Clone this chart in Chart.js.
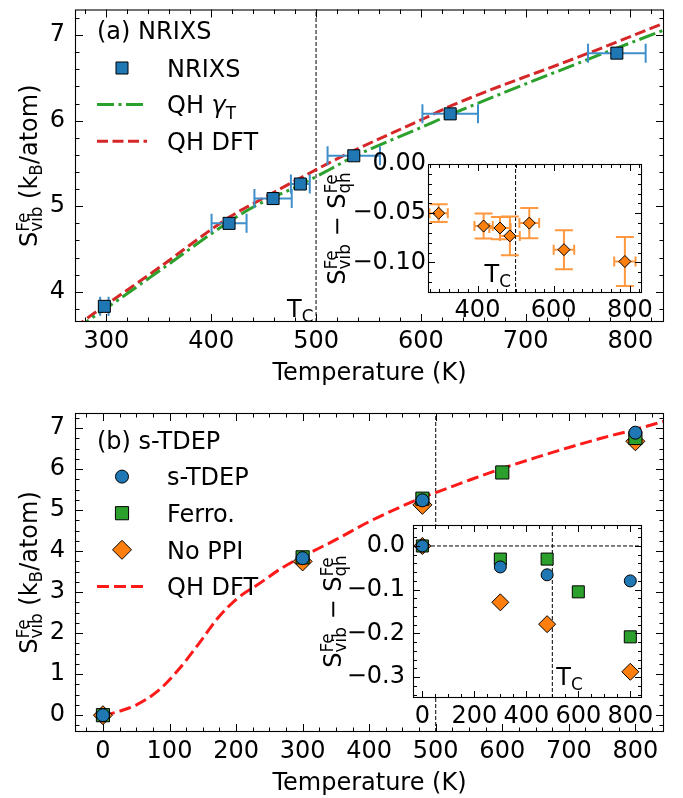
<!DOCTYPE html>
<html><head><meta charset="utf-8">
<script src="https://cdn.jsdelivr.net/npm/chart.js@4/dist/chart.umd.min.js"></script>
<style>
html,body{margin:0;padding:0;background:#fff;}
#wrap{position:relative;width:683px;height:798px;overflow:hidden;background:#fff;}
canvas{position:absolute;}
</style></head><body>
<div id="wrap">
<canvas id="mainA" width="683" height="400" style="left:0px;top:0px"></canvas>
<canvas id="insetA" width="383" height="185" style="left:300px;top:150px"></canvas>
<canvas id="mainB" width="683" height="398" style="left:0px;top:400px"></canvas>
<canvas id="insetB" width="383" height="240" style="left:300px;top:505px"></canvas>
</div>
<script>
// ---------------- data: panel (a) ----------------
const TC = 500;
const nrixsT    = [298, 417, 459, 485, 536, 628, 787];
const nrixsS    = [3.83, 4.80, 5.09, 5.26, 5.59, 6.08, 6.79];
const nrixsTErr = [4, 16.7, 17.8, 9, 25, 26.5, 27.5];
const qhGammaT  = [270, 281, 300, 350, 417, 443, 485, 513, 536, 602, 628, 760, 832];
const qhGammaS  = [3.55, 3.65, 3.81, 4.24, 4.82, 5.01, 5.25, 5.43, 5.58, 5.93, 6.07, 6.72, 7.06];
const qhDftAT   = [270, 276, 300, 350, 417, 443, 485, 513, 536, 602, 628, 760, 832];
const qhDftAS   = [3.58, 3.64, 3.85, 4.28, 4.87, 5.05, 5.33, 5.51, 5.65, 6.02, 6.17, 6.79, 7.14];
// inset (a): S_vib - S_qh
const diffAT    = [298, 416, 459, 485, 536, 627, 787];
const diffAS    = [-0.050, -0.063, -0.065, -0.073, -0.060, -0.087, -0.099];
const diffATErr = [24, 24, 28, 26, 26, 27, 28];
const diffASErr = [0.009, 0.0127, 0.0113, 0.0197, 0.0154, 0.0198, 0.0248];

// ---------------- data: panel (b) ----------------
const tdepT  = [0, 300, 480, 800];
const tdepS  = [0, 3.83, 5.24, 6.89];
const ferroT = [0, 300, 480, 600, 800];
const ferroS = [0, 3.85, 5.28, 5.92, 6.76];
const noppiT = [0, 300, 480, 800];
const noppiS = [0, 3.75, 5.13, 6.68];
const qhDftBT = [0, 10, 25, 49, 84, 113, 148, 172, 202, 235, 266, 300, 350, 400, 450, 480, 500, 550, 600, 650, 700, 750, 800, 843];
const qhDftBS = [0, 0.03, 0.10, 0.24, 0.61, 1.10, 1.83, 2.36, 2.85, 3.21, 3.56, 3.87, 4.28, 4.72, 5.10, 5.31, 5.43, 5.73, 6.02, 6.28, 6.53, 6.76, 6.97, 7.17];
// inset (b)
const tdepD  = [0, -0.048, -0.066, -0.080];
const ferroD = [0, -0.030, -0.030, -0.105, -0.208];
const noppiD = [0, -0.129, -0.179, -0.288];

// ---------------- tick labels ----------------
const xTicksA  = [300, 400, 500, 600, 700, 800];
const yTicksA  = [4, 5, 6, 7];
const xTicksAi = [400, 600, 800];
const yTicksAi = [0, -0.05, -0.10];
const xTicksB  = [0, 100, 200, 300, 400, 500, 600, 700, 800];
const yTicksB  = [0, 1, 2, 3, 4, 5, 6, 7];
const xTicksBi = [0, 200, 400, 600, 800];
const yTicksBi = [0, -0.1, -0.2, -0.3];

// ---------------- labels ----------------
const labelsA = ['NRIXS', 'QH ', 'QH DFT'];
const labelsB = ['s-TDEP', 'Ferro.', 'No PPI', 'QH DFT'];

const FONT = "'DejaVu Sans', sans-serif";
Chart.defaults.font.family = FONT;
Chart.defaults.font.size = 24;
Chart.defaults.color = '#000';

const BLUE = '#1f77b4', GREEN = '#2ca02c', ORANGE = '#ff7f0e', REDA = '#d62728', REDB = '#ff1a1a';
const mk = (T, S) => T.map((t, i) => ({x: t, y: S[i]}));

// ---------- rich text helpers ----------
function rich(ctx, parts, x, y, fs, draw) {
  let cx = x; const ss = fs * 0.7;
  ctx.textAlign = 'left'; ctx.textBaseline = 'alphabetic';
  for (const p of parts) {
    if (p.t) {
      ctx.font = (p.it ? 'italic ' : '') + fs + 'px ' + FONT;
      if (draw) ctx.fillText(p.t, cx, y);
      cx += ctx.measureText(p.t).width;
    }
    let w = 0;
    ctx.font = ss + 'px ' + FONT;
    if (p.sup) { if (draw) ctx.fillText(p.sup, cx, y - 0.34 * fs); w = Math.max(w, ctx.measureText(p.sup).width); }
    if (p.sub) { if (draw) ctx.fillText(p.sub, cx, y + 0.22 * fs); w = Math.max(w, ctx.measureText(p.sub).width); }
    cx += w;
  }
  return cx - x;
}
function richRot(ctx, parts, bx, cy, fs) {
  ctx.save(); ctx.translate(bx, cy); ctx.rotate(-Math.PI / 2);
  const w = rich(ctx, parts, 0, 0, fs, false);
  rich(ctx, parts, -w / 2, 0, fs, true);
  ctx.restore();
}

function drawErr(chart, eb) {
  const {ctx} = chart; const xs = chart.scales.x, ys = chart.scales.y;
  ctx.save(); ctx.strokeStyle = eb.color; ctx.lineWidth = eb.lw; ctx.setLineDash([]);
  eb.T.forEach((t, i) => {
    const px = xs.getPixelForValue(t), py = ys.getPixelForValue(eb.S[i]);
    ctx.beginPath();
    if (eb.xe && eb.xe[i]) {
      const l = xs.getPixelForValue(t - eb.xe[i]), r = xs.getPixelForValue(t + eb.xe[i]);
      ctx.moveTo(l, py); ctx.lineTo(r, py);
      ctx.moveTo(l, py - eb.xcap); ctx.lineTo(l, py + eb.xcap);
      ctx.moveTo(r, py - eb.xcap); ctx.lineTo(r, py + eb.xcap);
    }
    if (eb.ye && eb.ye[i]) {
      const b = ys.getPixelForValue(eb.S[i] - eb.ye[i]), u = ys.getPixelForValue(eb.S[i] + eb.ye[i]);
      ctx.moveTo(px, b); ctx.lineTo(px, u);
      ctx.moveTo(px - eb.ycap, b); ctx.lineTo(px + eb.ycap, b);
      ctx.moveTo(px - eb.ycap, u); ctx.lineTo(px + eb.ycap, u);
    }
    ctx.stroke();
  });
  ctx.restore();
}

function multiples(min, max, step) {
  const out = []; const k0 = Math.ceil(min / step - 1e-9), k1 = Math.floor(max / step + 1e-9);
  for (let k = k0; k <= k1; k++) out.push(k * step);
  return out;
}

function drawFrameTicks(chart, c) {
  const {ctx, chartArea: a} = chart; const xs = chart.scales.x, ys = chart.scales.y;
  ctx.save(); ctx.strokeStyle = '#000'; ctx.lineWidth = 1; ctx.setLineDash([]);
  ctx.beginPath();
  const isMaj = (arr, v, s) => arr.some(m => Math.abs(m - v) < s * 0.01);
  const xMin = multiples(xs.min, xs.max, c.xminor).filter(v => !isMaj(c.xt, v, c.xminor));
  const yMin = multiples(ys.min, ys.max, c.yminor).filter(v => !isMaj(c.yt, v, c.yminor));
  const vx = (L) => (v) => { const p = Math.round(xs.getPixelForValue(v)) + 0.5;
    ctx.moveTo(p, a.bottom); ctx.lineTo(p, a.bottom - L); ctx.moveTo(p, a.top); ctx.lineTo(p, a.top + L); };
  const vy = (L) => (v) => { const p = Math.round(ys.getPixelForValue(v)) + 0.5;
    ctx.moveTo(a.left, p); ctx.lineTo(a.left + L, p); ctx.moveTo(a.right, p); ctx.lineTo(a.right - L, p); };
  c.xt.forEach(vx(c.maj)); xMin.forEach(vx(c.min));
  c.yt.forEach(vy(c.maj)); yMin.forEach(vy(c.min));
  ctx.stroke();
  ctx.lineWidth = 1.1;
  ctx.strokeRect(a.left + 0.5, a.top + 0.5, a.right - a.left - 1, a.bottom - a.top - 1);
  ctx.restore();
}

function drawLegend(ctx, L) {
  L.items.forEach((it, i) => {
    const y = L.y0 + i * L.dy;
    ctx.save();
    if (it.kind === 'marker') {
      ctx.fillStyle = it.bg; ctx.strokeStyle = '#000'; ctx.lineWidth = 1;
      Chart.helpers.drawPoint(ctx, {pointStyle: it.style, radius: it.r, rotation: 0, borderWidth: 1}, L.mx, y);
    } else {
      ctx.strokeStyle = it.color; ctx.lineWidth = it.lw; ctx.setLineDash(it.dash);
      ctx.beginPath(); ctx.moveTo(L.mx - 25, y); ctx.lineTo(L.mx + 25, y); ctx.stroke();
    }
    ctx.restore();
    ctx.fillStyle = '#000';
    rich(ctx, it.label, L.tx, y + 8.8, 24, true);
  });
}

function decor(c) {
  return {
    id: 'decor',
    beforeDraw(chart) {
      if (c.fill) { const a = chart.chartArea; chart.ctx.save(); chart.ctx.fillStyle = '#fff';
        chart.ctx.fillRect(a.left, a.top, a.right - a.left, a.bottom - a.top); chart.ctx.restore(); }
    },
    beforeDatasetDraw(chart, args) {
      (c.errorBars || []).forEach(eb => { if (eb.index === args.index) drawErr(chart, eb); });
    },
    afterDraw(chart) {
      const ctx = chart.ctx;
      drawFrameTicks(chart, c);
      ctx.save(); ctx.fillStyle = '#000';
      if (c.ytitle) richRot(ctx, c.ytitle.parts, c.ytitle.bx, (chart.chartArea.top + chart.chartArea.bottom) / 2 + (c.ytitle.dy || 0), 24);
      (c.texts ? c.texts(chart) : []).forEach(t => rich(ctx, t.parts, t.x, t.y, 24, true));
      if (c.legend) drawLegend(ctx, c.legend);
      ctx.restore();
    }
  };
}

function makeChart(id, area, c) {
  const canvas = document.getElementById(id);
  const W = canvas.width, H = canvas.height;
  const zeroPad = s => { s.paddingLeft = 0; s.paddingRight = 0; s.paddingTop = 0; s.paddingBottom = 0; };
  return new Chart(canvas, {
    type: 'scatter',
    data: {datasets: c.datasets},
    options: {
      responsive: false, animation: false, devicePixelRatio: 1, events: [],
      layout: {padding: {left: 0, top: area.t, right: W - area.r, bottom: 0}},
      plugins: {legend: {display: false}, tooltip: {enabled: false}, title: {display: false}},
      scales: {
        x: {
          type: 'linear', position: 'bottom', min: c.xmin, max: c.xmax,
          afterBuildTicks: s => { s.ticks = c.xt.map(v => ({value: v})); },
          afterFit: s => { s.height = H - area.b; zeroPad(s); },
          grid: {display: false, drawTicks: false}, border: {display: false},
          ticks: {autoSkip: false, maxRotation: 0, minRotation: 0, padding: c.xpad, callback: c.xfmt, font: {size: 24}},
          title: c.xtitle ? {display: true, text: c.xtitle, font: {size: 24}, padding: {top: 0, bottom: c.xtb}} : {display: false}
        },
        y: {
          type: 'linear', position: 'left', min: c.ymin, max: c.ymax,
          afterBuildTicks: s => { s.ticks = c.yt.map(v => ({value: v})); },
          afterFit: s => { s.width = area.l; zeroPad(s); },
          grid: {display: false, drawTicks: false}, border: {display: false},
          ticks: {autoSkip: false, padding: c.ypad, callback: c.yfmt, font: {size: 24}},
          title: {display: false}
        }
      }
    },
    plugins: [decor(c)]
  });
}

const lineDs = (T, S, color, lw, dash) => ({data: mk(T, S), showLine: true, pointRadius: 0, pointHitRadius: 0,
  borderColor: color, borderWidth: lw, borderDash: dash, cubicInterpolationMode: 'monotone', fill: false});
const ptsDs = (T, S, style, r, color) => ({data: mk(T, S), showLine: false, pointStyle: style, pointRadius: r,
  pointBackgroundColor: color, pointBorderColor: '#000', pointBorderWidth: 1, backgroundColor: color, borderColor: '#000'});
const vline = (x, y0, y1) => ({data: [{x: x, y: y0}, {x: x, y: y1}], showLine: true, pointRadius: 0,
  borderColor: '#000', borderWidth: 1, borderDash: [4, 2]});
const hline = (y, x0, x1) => ({data: [{x: x0, y: y}, {x: x1, y: y}], showLine: true, pointRadius: 0,
  borderColor: '#000', borderWidth: 1, borderDash: [4, 2]});

const SVIB = {t: 'S', sup: 'Fe', sub: 'vib'};
const yTitleMain = [SVIB, {t: ' (k', sub: 'B'}, {t: '/atom)'}];
const yTitleInset = [SVIB, {t: ' − S', sup: 'Fe', sub: 'qh'}];
const TCLBL = [{t: 'T', sub: 'C'}];
const intFmt = v => String(v);
const minus = s => s.replace('-', '\u2212');

// ---------- panel (a) ----------
const A = {xmin: 270, xmax: 832, ymin: 3.647, ymax: 7.30};
makeChart('mainA', {l: 75, t: 3, r: 664, b: 322}, {
  xmin: A.xmin, xmax: A.xmax, ymin: A.ymin, ymax: A.ymax,
  xt: xTicksA, yt: yTicksA, xminor: 20, yminor: 0.2, maj: 8, min: 4.5,
  xpad: 5, ypad: 10, xfmt: intFmt, yfmt: intFmt, xtitle: 'Temperature (K)', xtb: 12,
  datasets: [
    ptsDs(nrixsT, nrixsS, 'rect', 8.5, BLUE),
    lineDs(qhGammaT, qhGammaS, GREEN, 3, [17, 4.5, 3, 4.5]),
    lineDs(qhDftAT, qhDftAS, REDA, 3, [11, 4.5]),
    vline(TC, A.ymin, A.ymax)
  ],
  errorBars: [{index: 0, T: nrixsT, S: nrixsS, xe: nrixsTErr, color: '#3f8fcb', lw: 2, xcap: 9.5}],
  ytitle: {parts: yTitleMain, bx: 37},
  texts: ch => [
    {parts: [{t: '(a) NRIXS'}], x: 97, y: 39},
    {parts: TCLBL, x: ch.scales.x.getPixelForValue(TC) - 29, y: 317}
  ],
  legend: {mx: 122, tx: 167, y0: 68, dy: 36.6, items: [
    {kind: 'marker', style: 'rect', r: 8.5, bg: BLUE, label: [{t: labelsA[0]}]},
    {kind: 'line', color: GREEN, lw: 3, dash: [17, 4.5, 3, 4.5], label: [{t: labelsA[1]}, {t: 'γ', it: true, sub: 'T'}]},
    {kind: 'line', color: REDA, lw: 3, dash: [11, 4.5], label: [{t: labelsA[2]}]}
  ]}
});

const Ai = {xmin: 270, xmax: 832, ymin: -0.131, ymax: 0};
makeChart('insetA', {l: 128, t: 14, r: 342, b: 143}, {
  fill: true,
  xmin: Ai.xmin, xmax: Ai.xmax, ymin: Ai.ymin, ymax: Ai.ymax,
  xt: xTicksAi, yt: yTicksAi, xminor: 25, yminor: 0.01, maj: 7, min: 4,
  xpad: 3, ypad: 2, xfmt: intFmt, yfmt: v => minus(v.toFixed(2)),
  datasets: [
    ptsDs(diffAT, diffAS, 'rectRot', 6, ORANGE),
    vline(TC, Ai.ymin, Ai.ymax)
  ],
  errorBars: [{index: 0, T: diffAT, S: diffAS, xe: diffATErr, ye: diffASErr, color: '#ff983e', lw: 2, xcap: 5, ycap: 9}],
  ytitle: {parts: yTitleInset, bx: 45},
  texts: ch => [{parts: TCLBL, x: ch.scales.x.getPixelForValue(TC) - 31, y: 132}]
});

// ---------- panel (b) ----------
const B = {xmin: -42, xmax: 843, ymin: -0.41, ymax: 7.37};
makeChart('mainB', {l: 75, t: 13, r: 664, b: 332}, {
  xmin: B.xmin, xmax: B.xmax, ymin: B.ymin, ymax: B.ymax,
  xt: xTicksB, yt: yTicksB, xminor: 25, yminor: 0.25, maj: 8, min: 4.5,
  xpad: 5, ypad: 10, xfmt: intFmt, yfmt: intFmt, xtitle: 'Temperature (K)', xtb: 0,
  datasets: [
    ptsDs(tdepT, tdepS, 'circle', 6.5, BLUE),
    ptsDs(ferroT, ferroS, 'rect', 9.3, GREEN),
    ptsDs(noppiT, noppiS, 'rectRot', 9.5, ORANGE),
    lineDs(qhDftBT, qhDftBS, REDB, 3, [12, 5]),
    vline(TC, B.ymin, B.ymax)
  ],
  ytitle: {parts: yTitleMain, bx: 37},
  texts: ch => [{parts: [{t: '(b) s-TDEP'}], x: 97, y: 48.5}],
  legend: {mx: 122, tx: 167, y0: 76.6, dy: 36.6, items: [
    {kind: 'marker', style: 'circle', r: 6.5, bg: BLUE, label: [{t: labelsB[0]}]},
    {kind: 'marker', style: 'rect', r: 9.3, bg: GREEN, label: [{t: labelsB[1]}]},
    {kind: 'marker', style: 'rectRot', r: 9.5, bg: ORANGE, label: [{t: labelsB[2]}]},
    {kind: 'line', color: REDB, lw: 3, dash: [12, 5], label: [{t: labelsB[3]}]}
  ]}
});

const Bi = {xmin: -36, xmax: 845, ymin: -0.348, ymax: 0.048};
makeChart('insetB', {l: 113, t: 20, r: 342, b: 193}, {
  fill: true,
  xmin: Bi.xmin, xmax: Bi.xmax, ymin: Bi.ymin, ymax: Bi.ymax,
  xt: xTicksBi, yt: yTicksBi, xminor: 50, yminor: 0.02, maj: 7, min: 4,
  xpad: 4, ypad: 8, xfmt: intFmt, yfmt: v => minus(v.toFixed(1)),
  datasets: [
    ptsDs(tdepT, tdepD, 'circle', 6, BLUE),
    ptsDs(ferroT, ferroD, 'rect', 8.5, GREEN),
    ptsDs(noppiT, noppiD, 'rectRot', 8.5, ORANGE),
    hline(0, Bi.xmin, Bi.xmax),
    vline(TC, Bi.ymin, Bi.ymax)
  ],
  ytitle: {parts: yTitleInset, bx: 41},
  texts: ch => [{parts: TCLBL, x: ch.scales.x.getPixelForValue(TC) + 4, y: 180}]
});
</script>
</body></html>
